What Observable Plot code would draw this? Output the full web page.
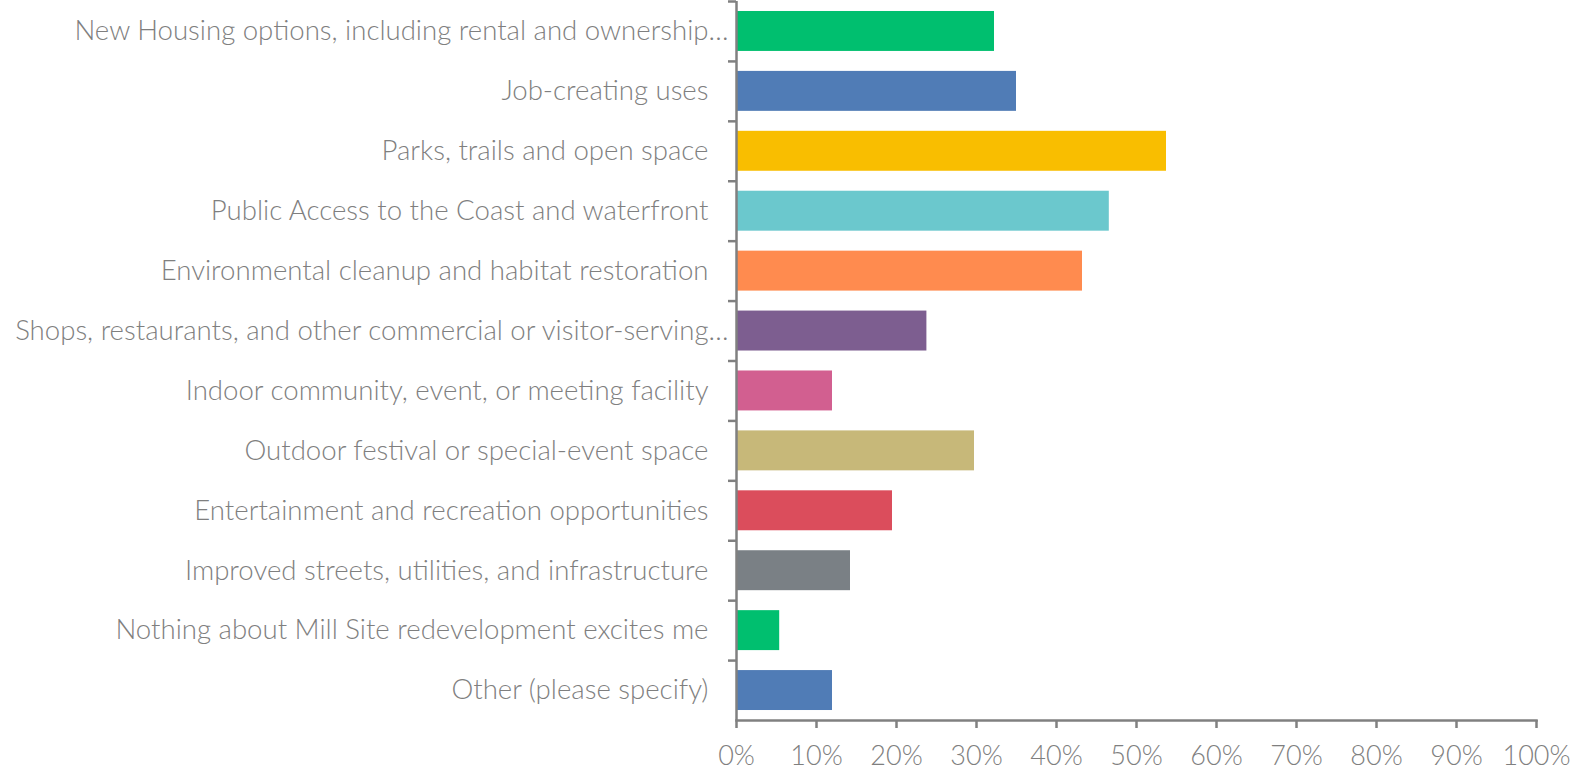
<!DOCTYPE html>
<html>
<head>
<meta charset="utf-8">
<script src="https://cdn.jsdelivr.net/npm/d3@7"></script>
<script src="https://cdn.jsdelivr.net/npm/@observablehq/plot@0.6"></script>
<style>
  html, body { margin: 0; padding: 0; background: #fff; }
  svg { display: block; }
</style>
</head>
<body>
<div id="chart"></div>
<script>
const categories = [
  "New Housing options, including rental and ownership…",
  "Job-creating uses",
  "Parks, trails and open space",
  "Public Access to the Coast and waterfront",
  "Environmental cleanup and habitat restoration",
  "Shops, restaurants, and other commercial or visitor-serving…",
  "Indoor community, event, or meeting facility",
  "Outdoor festival or special-event space",
  "Entertainment and recreation opportunities",
  "Improved streets, utilities, and infrastructure",
  "Nothing about Mill Site redevelopment excites me",
  "Other (please specify)"
];
const values = [0.3225, 0.35, 0.5375, 0.466, 0.4325, 0.238, 0.12, 0.2975, 0.195, 0.1425, 0.054, 0.12];
const colors = ["#00BF6F", "#507CB6", "#F9BE00", "#6BC8CD", "#FF8B4F", "#7D5E90",
                "#D25F90", "#C7B879", "#DB4D5C", "#7A8085", "#00BF6F", "#507CB6"];
const xTicks = [0, 0.1, 0.2, 0.3, 0.4, 0.5, 0.6, 0.7, 0.8, 0.9, 1];

const data = categories.map((c, i) => ({category: c, value: values[i], color: colors[i]}));
const truncated = categories.filter(c => c.endsWith("…"));
const full = categories.filter(c => !c.endsWith("…"));

const W = 1571, H = 772, mT = 1, mB = 52, mL = 736, mR = 35;
const halfStep = (H - mT - mB) / categories.length / 2;
const axisColor = "#808080";
const font = "Lato, 'Open Sans', sans-serif";

const chart = Plot.plot({
  width: W,
  height: H,
  marginTop: mT,
  marginBottom: mB,
  marginLeft: mL,
  marginRight: mR,
  style: {fontFamily: font, background: "#fff", fontWeight: 300},
  x: {domain: [0, 1]},
  y: {domain: categories, paddingInner: 1/3, paddingOuter: 1/6, round: false},
  marks: [
    Plot.barX(data, {x: "value", y: "category", fill: "color"}),
    Plot.ruleX([0], {stroke: axisColor, strokeWidth: 2.5}),
    Plot.frame({anchor: "bottom", stroke: axisColor, strokeWidth: 2.5}),
    Plot.axisX({ticks: xTicks, tickSize: 8, tickPadding: 17, stroke: axisColor, strokeWidth: 2.5,
                tickFormat: d => Math.round(d * 100) + "%", fill: "#7f7f7f", fontSize: 27, label: null}),
    Plot.axisY({text: null, tickSize: 8, dy: -halfStep, stroke: axisColor, strokeWidth: 2.5, label: null}),
    Plot.axisY({ticks: truncated, tickSize: 0, tickPadding: 8, fill: "#7f7f7f", fontSize: 27.6, label: null}),
    Plot.axisY({ticks: full, tickSize: 0, tickPadding: 28, fill: "#7f7f7f", fontSize: 27.6, label: null})
  ]
});
document.getElementById("chart").appendChild(chart);
</script>
</body>
</html>
